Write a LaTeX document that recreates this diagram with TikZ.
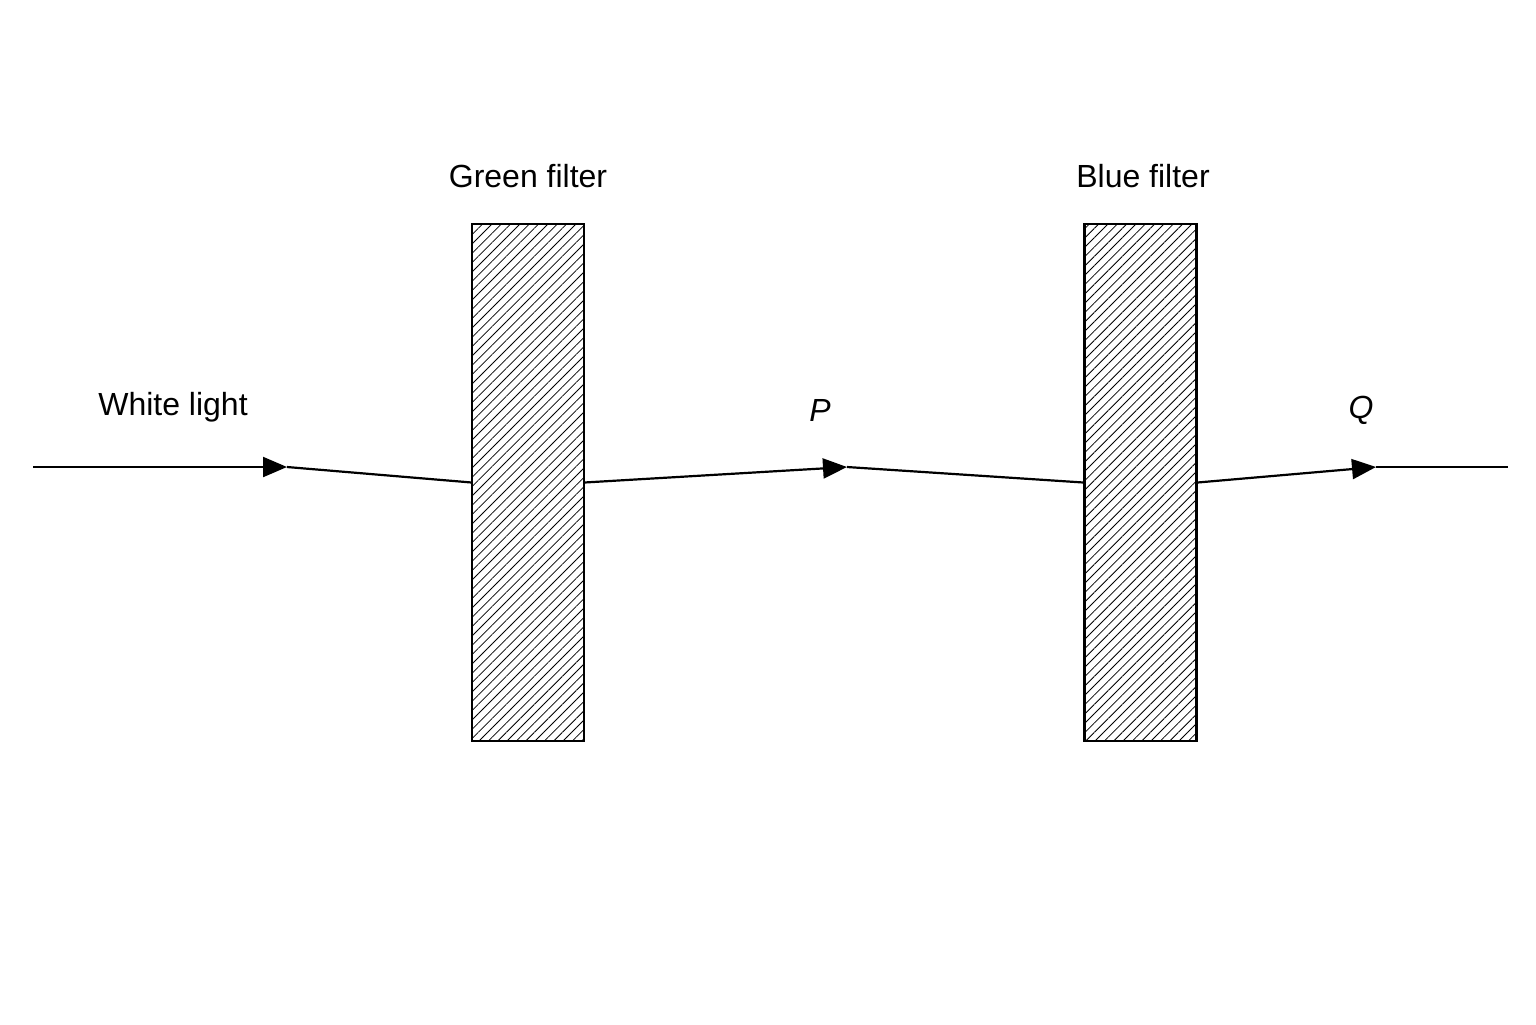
\documentclass[tikz,border=0pt]{standalone}
\usepackage{fontspec}
\setmainfont{Liberation Sans}
\usetikzlibrary{patterns.meta,arrows.meta}
\begin{document}
\begin{tikzpicture}[x=0.5pt,y=-0.5pt,
  filter/.style={draw,line width=1.1pt,minimum width=56pt,minimum height=258.5pt,inner sep=0pt,
    pattern={Lines[angle=45,distance=3.3pt,line width=0.4pt]}},
  ray/.style={line width=1.1pt},
  tip/.style={ray,-{Triangle[length=12pt,width=10pt]}},
  lab/.style={font=\fontsize{16}{19}\selectfont}]
\useasboundingbox (0,0) rectangle (1536,1024);
\node[filter] (gf) at (528,482.5) {};
\node[filter] (bf) at (1140.5,482.5) {};
\coordinate (s) at (33,467);
\coordinate (a1) at (287,467);
\coordinate (a2) at (847,467);
\coordinate (a3) at (1376,467);
\coordinate (e) at (1508,467);
\draw[tip] (s) -- (a1);
\draw[ray] (a1) -- (gf.west);
\draw[tip] (gf.east) -- (a2);
\draw[ray] (a2) -- (bf.west);
\draw[tip] (bf.east) -- (a3);
\draw[ray] (a3) -- (e);
\node[lab] (gl) at (528,176) {Green filter};
\node[lab] (bl) at (1143,176) {Blue filter};
\node[lab] (wl) at (173,407) {White light};
\node[lab] (p) at (820,410) {\itshape P};
\node[lab] (q) at (1361,410) {\itshape Q};
\end{tikzpicture}
\end{document}
